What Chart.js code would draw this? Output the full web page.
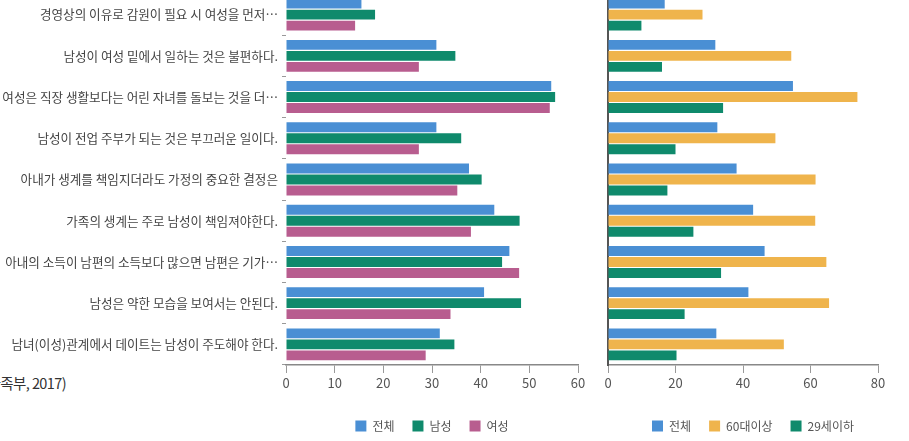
<!DOCTYPE html>
<html>
<head>
<meta charset="utf-8">
<script src="https://cdn.jsdelivr.net/npm/chart.js@4/dist/chart.umd.min.js"></script>
<style>
  html, body { margin:0; padding:0; background:#fff; width:909px; height:441px; overflow:hidden; position:relative; }
  .wrap { position:absolute; }
  #src { position:absolute; right:843px; top:372px; white-space:nowrap; text-align:right;
         font-family:"Noto Sans CJK KR", sans-serif; font-size:14.5px; color:#333; letter-spacing:-0.6px; }
</style>
</head>
<body>
<div id="src">(자료: 여성가족부, 2017)</div>
<div class="wrap" style="left:0px; top:-30px; width:600px; height:480px;"><canvas id="c1" width="600" height="480"></canvas></div>
<div class="wrap" style="left:590px; top:-30px; width:319px; height:480px;"><canvas id="c2" width="319" height="480"></canvas></div>
<script>
const categories = [
  "경영상의 이유로 감원이 필요 시 여성을 먼저…",
  "남성이 여성 밑에서 일하는 것은 불편하다.",
  "여성은 직장 생활보다는 어린 자녀를 돌보는 것을 더…",
  "남성이 전업 주부가 되는 것은 부끄러운 일이다.",
  "아내가 생계를 책임지더라도 가정의 중요한 결정은",
  "가족의 생계는 주로 남성이 책임져야한다.",
  "아내의 소득이 남편의 소득보다 많으면 남편은 기가…",
  "남성은 약한 모습을 보여서는 안된다.",
  "남녀(이성)관계에서 데이트는 남성이 주도해야 한다."
];
// Left chart: by gender
const genderTotal = [15.5, 30.9, 54.5, 30.9, 37.6, 42.8, 45.9, 40.7, 31.6];
const genderMale  = [18.3, 34.8, 55.3, 36.0, 40.2, 48.0, 44.4, 48.3, 34.6];
const genderFemale= [14.2, 27.3, 54.2, 27.3, 35.2, 38.0, 47.9, 33.8, 28.7];
// Right chart: by age
const ageTotal   = [16.8, 31.8, 54.8, 32.4, 38.1, 43.0, 46.4, 41.6, 32.1];
const age60plus  = [28.0, 54.3, 73.9, 49.6, 61.5, 61.4, 64.7, 65.5, 52.1];
const age29under = [9.9, 16.0, 34.1, 20.0, 17.6, 25.3, 33.5, 22.7, 20.3];

const seriesLeftNames = ["전체", "남성", "여성"];
const seriesRightNames = ["전체", "60대이상", "29세이하"];

const BLUE = "#4a8fd4", GREEN = "#0f8a6c", PINK = "#b85d8f", YELLOW = "#efb44c";
const FONT = "'Noto Sans CJK KR', sans-serif";

function ds(label, data, color) {
  return { label, data, backgroundColor: color, borderWidth: 0,
           categoryPercentage: 0.8, barPercentage: 0.9 };
}

function legendOpts() {
  return {
    display: true, position: 'bottom', fullSize: false,
    labels: { boxWidth: 11, boxHeight: 11, padding: 18, color: '#555',
              font: { family: FONT, size: 12 } }
  };
}

function xScale(max, step) {
  return {
    type: 'linear', min: 0, max: max,
    ticks: { stepSize: step, color: '#555', padding: 2, font: { family: FONT, size: 13 } },
    grid: { display: true, drawOnChartArea: false, drawTicks: true, tickLength: 8, color: '#999' },
    border: { display: true, color: '#888', width: 1.5 },
    afterFit: s => { s.height = 37; }
  };
}

function legendShift(dx) {
  return {
    id: 'legendShift',
    afterUpdate(chart) {
      if (chart.legend) { chart.legend.left += dx; chart.legend.right += dx; }
    }
  };
}

new Chart(document.getElementById('c1'), {
  type: 'bar',
  data: {
    labels: categories,
    datasets: [
      ds(seriesLeftNames[0], genderTotal, BLUE),
      ds(seriesLeftNames[1], genderMale, GREEN),
      ds(seriesLeftNames[2], genderFemale, PINK)
    ]
  },
  options: {
    indexAxis: 'y', responsive: false, animation: false,
    layout: { padding: { top: 24, right: 22, left: 0, bottom: 8 } },
    plugins: { legend: legendOpts(), tooltip: { enabled: false } },
    scales: {
      x: xScale(60, 10),
      y: {
        ticks: { color: '#444', padding: 4, font: { family: FONT, size: 12.6 } },
        grid: { display: true, drawOnChartArea: false, drawTicks: true, tickLength: 4, color: '#999', offset: true },
        border: { display: false },
        afterFit: s => { s.width = 286; }
      }
    }
  }
});

new Chart(document.getElementById('c2'), {
  type: 'bar',
  data: {
    labels: categories,
    datasets: [
      ds(seriesRightNames[0], ageTotal, BLUE),
      ds(seriesRightNames[1], age60plus, YELLOW),
      ds(seriesRightNames[2], age29under, GREEN)
    ]
  },
  options: {
    indexAxis: 'y', responsive: false, animation: false,
    layout: { padding: { top: 24, right: 31, left: 0, bottom: 8 } },
    plugins: { legend: legendOpts(), tooltip: { enabled: false } },
    scales: {
      x: xScale(80, 20),
      y: {
        ticks: { display: false },
        grid: { display: false },
        border: { display: true, color: '#555', width: 2 },
        afterFit: s => { s.width = 18; }
      }
    }
  },
  plugins: [legendShift(10)]
});
</script>
</body>
</html>
